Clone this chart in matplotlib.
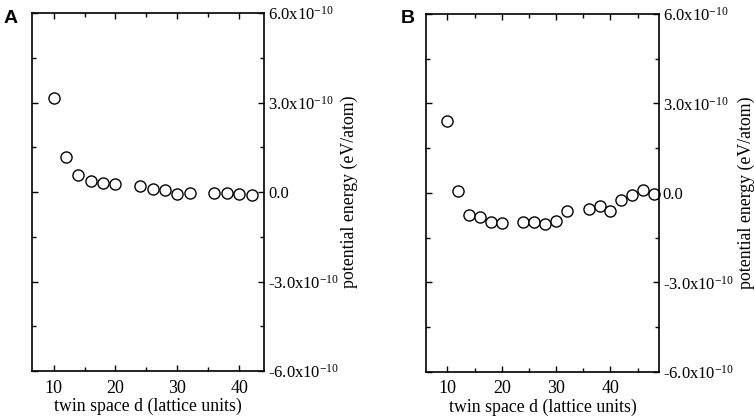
import numpy as np
import matplotlib
matplotlib.use("Agg")
import matplotlib.pyplot as plt
from matplotlib.ticker import FixedLocator, FuncFormatter

plt.rcParams['font.family'] = ['Liberation Serif', 'DejaVu Serif']
plt.rcParams['mathtext.fontset'] = 'custom'
plt.rcParams['mathtext.rm'] = 'Liberation Serif'
plt.rcParams['mathtext.default'] = 'rm'

# panel A
d_a = [10, 12, 14, 16, 18, 20, 24, 26, 28, 30, 32, 36, 38, 40, 42]
pe_a = [3.16, 1.19, 0.57, 0.37, 0.29, 0.27, 0.19, 0.11, 0.08, -0.06,
        -0.03, -0.03, -0.03, -0.06, -0.09]  # x1e-10 eV/atom

# panel B
d_b = [10, 12, 14, 16, 18, 20, 24, 26, 28, 30, 32, 36, 38, 40, 42, 44, 46, 48]
pe_b = [2.40, 0.08, -0.73, -0.82, -0.98, -1.02, -0.99, -0.98, -1.03, -0.93,
        -0.62, -0.54, -0.45, -0.62, -0.24, -0.08, 0.09, -0.03]

xlabel = "twin space d (lattice units)"
ylabel = "potential energy (eV/atom)"


def ylab(v, pos):
    if abs(v) < 1e-20:
        return "0.0"
    return "%.1fx10$^{-10}$" % (v / 1e-10)


fig = plt.figure(figsize=(7.54, 4.18), dpi=100)
axA = fig.add_axes([0.0424, 0.112, 0.3077, 0.857])
axB = fig.add_axes([0.5654, 0.110, 0.3082, 0.857])

for ax, d, pe, xl, tag in [(axA, d_a, pe_a, (6.5, 44.0), "A"),
                           (axB, d_b, pe_b, (6.1, 48.9), "B")]:
    ax.plot(d, np.array(pe) * 1e-10, 'o', mfc='white', mec='black',
            mew=1.0, ms=8, clip_on=False)
    ax.set_xlim(*xl)
    ax.set_ylim(-6e-10, 6e-10)
    ax.xaxis.set_major_locator(FixedLocator([10, 20, 30, 40]))
    ax.xaxis.set_minor_locator(FixedLocator([15, 25, 35, 45]))
    ax.yaxis.set_major_locator(FixedLocator([-6e-10, -3e-10, 0, 3e-10, 6e-10]))
    ax.yaxis.set_minor_locator(FixedLocator([-4.5e-10, -1.5e-10, 1.5e-10, 4.5e-10]))
    ax.yaxis.set_major_formatter(FuncFormatter(ylab))
    ax.yaxis.tick_right()
    ax.yaxis.set_label_position("right")
    ax.tick_params(which='both', direction='in', top=True, bottom=True,
                   left=True, right=True, labelleft=False, labelright=True,
                   labelsize=12, width=1.0)
    ax.tick_params(axis='x', labelsize=13, pad=6)
    ax.tick_params(axis='y', pad=3)
    ax.tick_params(which='major', length=4)
    ax.tick_params(which='minor', length=3)
    for s in ax.spines.values():
        s.set_linewidth(1.2)
    ax.set_xlabel(xlabel, fontsize=12.8, labelpad=1)
    ax.set_ylabel(ylabel, fontsize=12.8)

axA.yaxis.set_label_coords(1.33, 0.5)
axB.yaxis.set_label_coords(1.342, 0.5)

fig.text(0.004, 0.975, "A", fontsize=14, fontweight='bold',
         family='Liberation Sans', va='top', ha='left')
fig.text(0.532, 0.975, "B", fontsize=14, fontweight='bold',
         family='Liberation Sans', va='top', ha='left')

fig.savefig("out.png", dpi=100)
